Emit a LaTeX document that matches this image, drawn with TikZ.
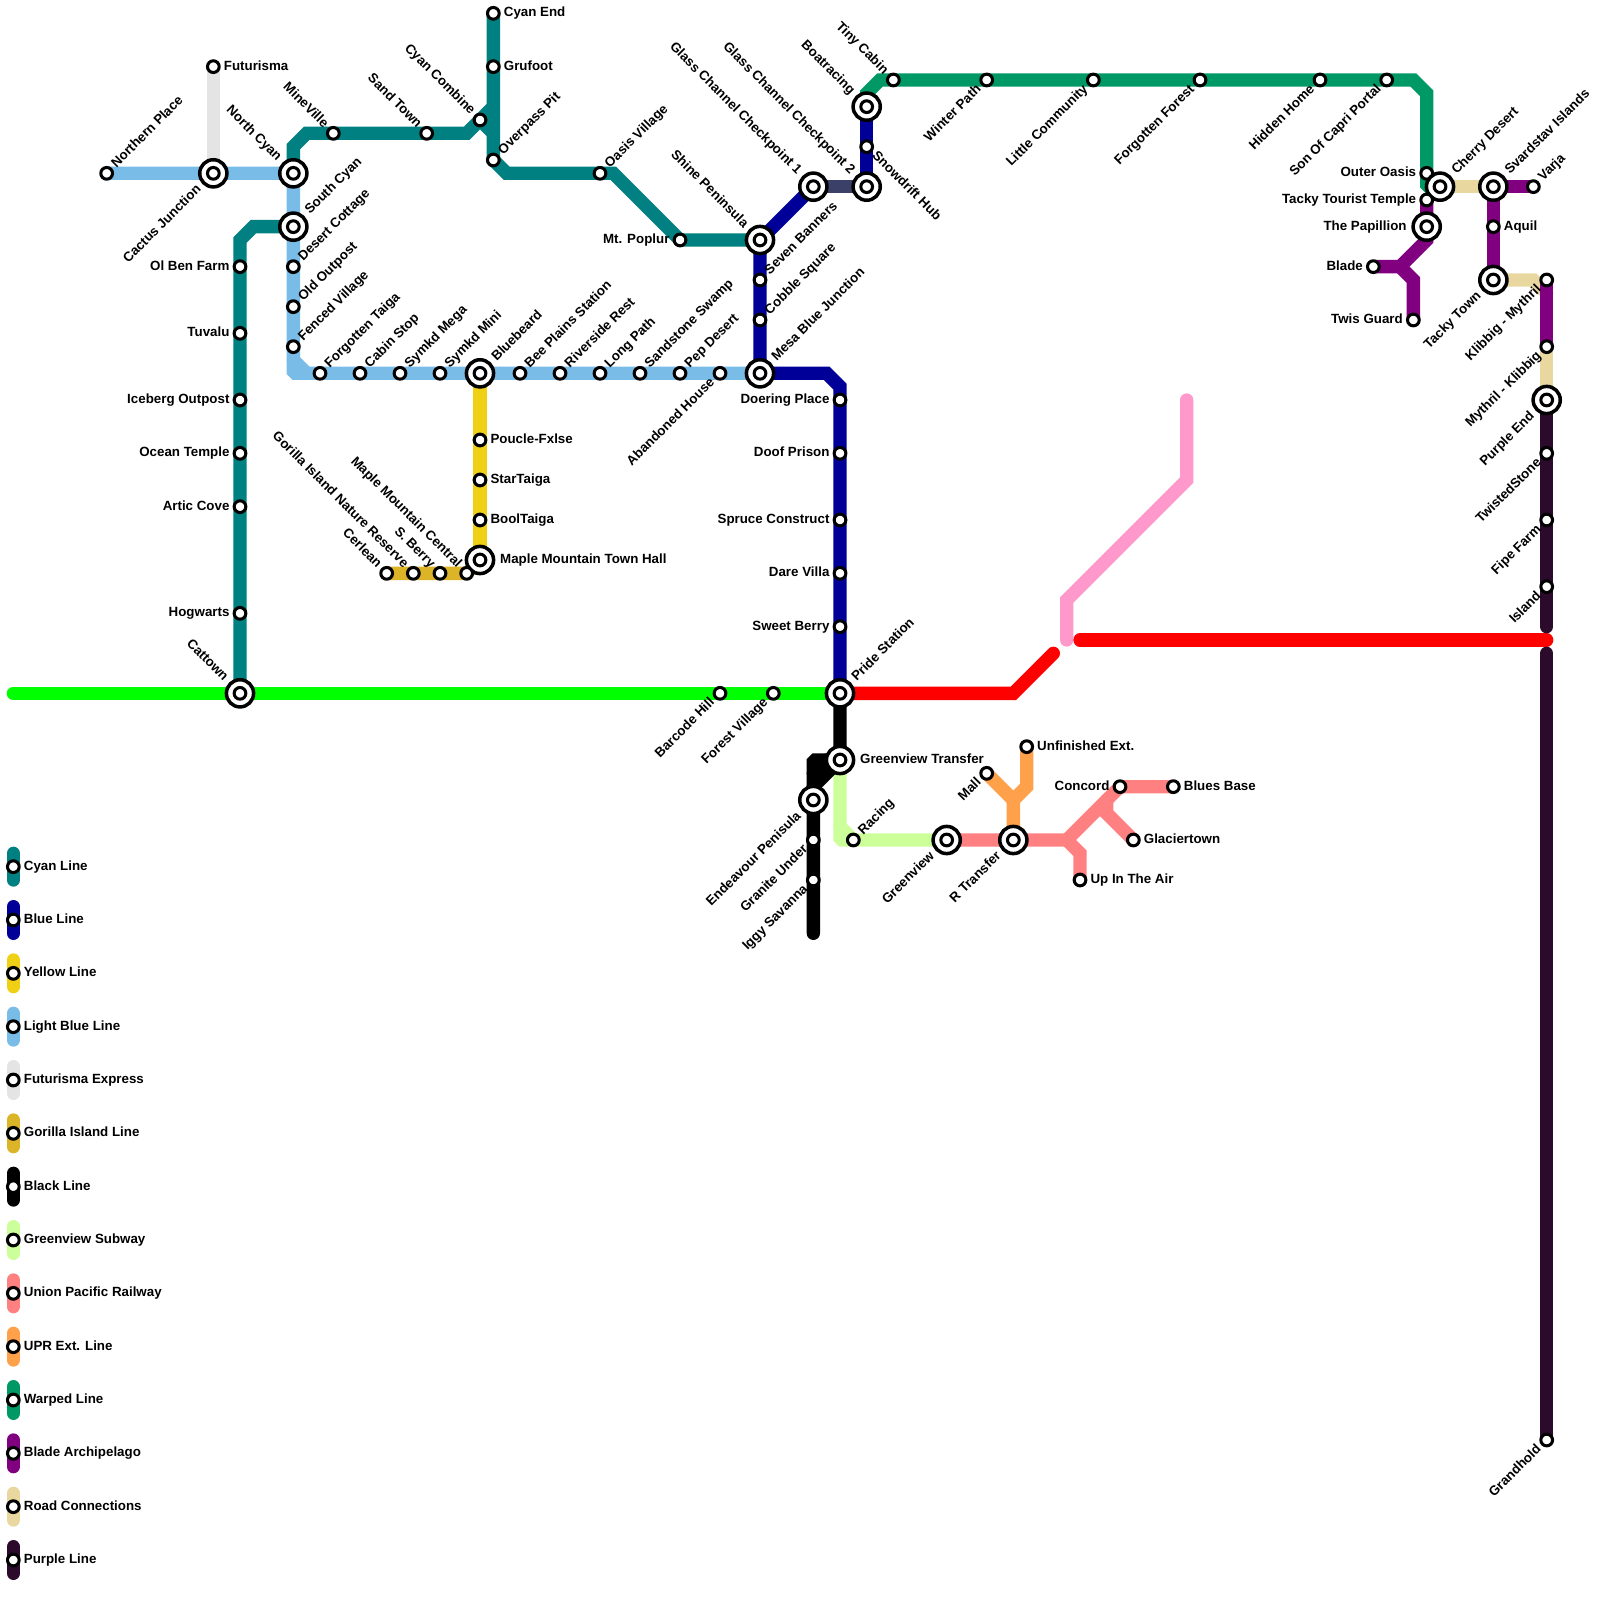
\documentclass[tikz,border=0pt]{standalone}
\usepackage{fontspec}
\setmainfont{Liberation Sans}
\definecolor{cyanl}{HTML}{008080}
\definecolor{bluel}{HTML}{000099}
\definecolor{yellowl}{HTML}{F0D014}
\definecolor{lightl}{HTML}{7ABCE8}
\definecolor{futl}{HTML}{E4E4E4}
\definecolor{gorl}{HTML}{DCB428}
\definecolor{blackl}{HTML}{000000}
\definecolor{greenvl}{HTML}{CCFF99}
\definecolor{upl}{HTML}{FF8080}
\definecolor{extl}{HTML}{FFA04A}
\definecolor{warpl}{HTML}{009966}
\definecolor{bladel}{HTML}{800080}
\definecolor{roadl}{HTML}{E8D8A0}
\definecolor{purpl}{HTML}{2B0A2B}
\definecolor{glassl}{HTML}{3A4068}
\definecolor{pinkl}{HTML}{FF99CC}
\definecolor{redl}{HTML}{FF0000}
\definecolor{limel}{HTML}{00FF00}
\pgfdeclarelayer{lines}
\pgfsetlayers{lines,main}
\tikzset{
  metro/.style={line width=5.69pt,line cap=round,line join=miter,draw=#1},
  sta/.style={circle,draw=black,fill=white,line width=1.3pt,minimum size=5pt,inner sep=0pt,outer sep=0pt},
  hub/.style={circle,draw=black,fill=white,line width=1.5pt,minimum size=11.6pt,inner sep=0pt,outer sep=0pt},
  lbl/.style={font=\fontsize{5.69pt}{6.5pt}\selectfont\bfseries,text=black,inner ysep=0pt,text height=5.2pt,text depth=2.18pt},
  lblR/.style={lbl,anchor=west},
  lblL/.style={lbl,anchor=east},
  lblUR/.style={lbl,anchor=west,rotate=45},
  lblDL/.style={lbl,anchor=east,rotate=45},
  lblUL/.style={lbl,anchor=east,rotate=-45},
  lblDR/.style={lbl,anchor=west,rotate=-45},
}
\newcommand\stn[5]{\node[sta] (#1) at (#2,#3) {}; \node[lbl#4,inner xsep=4.3pt] (#1-t) at (#2,#3) {#5};}
\newcommand\icn[5]{\node[hub] (#1) at (#2,#3) {}; \node[sta] (#1-i) at (#2,#3) {}; \node[lbl#4,inner xsep=8.4pt] (#1-t) at (#2,#3) {#5};}
\begin{document}
\begin{tikzpicture}[x=0.2cm,y=-0.2cm]
\useasboundingbox (0,0) rectangle (120,120);
% Cyan
\stn{cyanEnd}{37}{1}{R}{Cyan End}
\stn{grufoot}{37}{5}{R}{Grufoot}
\stn{cyanCombine}{36}{9}{UL}{Cyan Combine}
\stn{overpass}{37}{12}{UR}{Overpass Pit}
\stn{oasis}{45}{13}{UR}{Oasis Village}
\stn{poplur}{51}{18}{L}{Mt. Poplur}
\stn{sandTown}{32}{10}{UL}{Sand Town}
\stn{mineville}{25}{10}{UL}{MineVille}
\stn{olBen}{18}{20}{L}{Ol Ben Farm}
\stn{tuvalu}{18}{25}{L}{Tuvalu}
\stn{iceberg}{18}{30}{L}{Iceberg Outpost}
\stn{ocean}{18}{34}{L}{Ocean Temple}
\stn{artic}{18}{38}{L}{Artic Cove}
\stn{hogwarts}{18}{46}{L}{Hogwarts}
\icn{cattown}{18}{52}{UL}{Cattown}
\icn{northCyan}{22}{13}{UL}{North Cyan}
\icn{southCyan}{22}{17}{UR}{South Cyan}
% Light blue / futurisma
\stn{northern}{8}{13}{UR}{Northern Place}
\icn{cactus}{16}{13}{DL}{Cactus Junction}
\stn{futurisma}{16}{5}{R}{Futurisma}
\stn{desert}{22}{20}{UR}{Desert Cottage}
\stn{oldOut}{22}{23}{UR}{Old Outpost}
\stn{fenced}{22}{26}{UR}{Fenced Village}
\stn{forgotTaiga}{24}{28}{UR}{Forgotten Taiga}
\stn{cabin}{27}{28}{UR}{Cabin Stop}
\stn{symMega}{30}{28}{UR}{Symkd Mega}
\stn{symMini}{33}{28}{UR}{Symkd Mini}
\icn{bluebeard}{36}{28}{UR}{Bluebeard}
\stn{beePlains}{39}{28}{UR}{Bee Plains Station}
\stn{riverside}{42}{28}{UR}{Riverside Rest}
\stn{longPath}{45}{28}{UR}{Long Path}
\stn{sandstone}{48}{28}{UR}{Sandstone Swamp}
\stn{pep}{51}{28}{UR}{Pep Desert}
\stn{abandoned}{54}{28}{DL}{Abandoned House}
\icn{mesa}{57}{28}{UR}{Mesa Blue Junction}
% Blue
\icn{shine}{57}{18}{UL}{Shine Peninsula}
\stn{seven}{57}{21}{UR}{Seven Banners}
\stn{cobble}{57}{24}{UR}{Cobble Square}
\icn{glassA}{61}{14}{UL}{Glass Channel Checkpoint 1}
\icn{glassB}{65}{14}{UL}{Glass Channel Checkpoint 2}
\stn{snowdrift}{65}{11}{DR}{Snowdrift Hub}
\icn{boatracing}{65}{8}{UL}{Boatracing}
\stn{doering}{63}{30}{L}{Doering Place}
\stn{doof}{63}{34}{L}{Doof Prison}
\stn{spruce}{63}{39}{L}{Spruce Construct}
\stn{dare}{63}{43}{L}{Dare Villa}
\stn{sweet}{63}{47}{L}{Sweet Berry}
\icn{pride}{63}{52}{UR}{Pride Station}
\stn{barcode}{54}{52}{DL}{Barcode Hill}
\stn{forestV}{58}{52}{DL}{Forest Village}
% Yellow / Gorilla
\stn{poucle}{36}{33}{R}{Poucle-Fxlse}
\stn{startaiga}{36}{36}{R}{StarTaiga}
\stn{booltaiga}{36}{39}{R}{BoolTaiga}
\icn{mapleHall}{36}{42}{R}{Maple Mountain Town Hall}
\stn{cerlean}{29}{43}{UL}{Cerlean}
\stn{gorilla}{31}{43}{UL}{Gorilla Island Nature Reserve}
\stn{sberry}{33}{43}{UL}{S. Berry}
\stn{mapleCentral}{35}{43}{UL}{Maple Mountain Central}
% Black / Greenview / UP
\icn{gvTransfer}{63}{57}{R}{Greenview Transfer}
\icn{endeavour}{61}{60}{DL}{Endeavour Penisula}
\stn{granite}{61}{63}{DL}{Granite Under}
\stn{iggy}{61}{66}{DL}{Iggy Savanna}
\stn{racing}{64}{63}{UR}{Racing}
\icn{greenview}{71}{63}{DL}{Greenview}
\icn{rTransfer}{76}{63}{DL}{R Transfer}
\stn{mall}{74}{58}{DL}{Mall}
\stn{unfinished}{77}{56}{R}{Unfinished Ext.}
\stn{concord}{84}{59}{L}{Concord}
\stn{bluesBase}{88}{59}{R}{Blues Base}
\stn{glacier}{85}{63}{R}{Glaciertown}
\stn{upAir}{81}{66}{R}{Up In The Air}
% Warped
\stn{tiny}{67}{6}{UL}{Tiny Cabin}
\stn{winter}{74}{6}{DL}{Winter Path}
\stn{little}{82}{6}{DL}{Little Community}
\stn{forgotForest}{90}{6}{DL}{Forgotten Forest}
\stn{hidden}{99}{6}{DL}{Hidden Home}
\stn{sonCapri}{104}{6}{DL}{Son Of Capri Portal}
\stn{outerOasis}{107}{13}{L}{Outer Oasis}
\icn{cherry}{108}{14}{UR}{Cherry Desert}
\stn{tackyTemple}{107}{15}{L}{Tacky Tourist Temple}
\icn{papillion}{107}{17}{L}{The Papillion}
\stn{blade}{103}{20}{L}{Blade}
\stn{twis}{106}{24}{L}{Twis Guard}
\icn{svardstav}{112}{14}{UR}{Svardstav Islands}
\stn{varja}{115}{14}{UR}{Varja}
\stn{aquil}{112}{17}{R}{Aquil}
\icn{tackyTown}{112}{21}{DL}{Tacky Town}
\stn{klibbig}{116}{21}{DL}{Klibbig - Mythril}
\stn{mythril}{116}{26}{DL}{Mythril - Klibbig}
\icn{purpleEnd}{116}{30}{DL}{Purple End}
\stn{twisted}{116}{34}{DL}{TwistedStone}
\stn{fipe}{116}{39}{DL}{Fipe Farm}
\stn{island}{116}{44}{DL}{Island}
\stn{grandhold}{116}{108}{DL}{Grandhold}
% Waypoints
\coordinate (wA) at (22,11); \coordinate (wB) at (23,10); \coordinate (wC) at (35,10); \coordinate (wD) at (37,8); \coordinate (wE) at (37,10);
\coordinate (wF) at (38,13); \coordinate (wG) at (46,13);
\coordinate (wH) at (19,17); \coordinate (wI) at (18,18);
\coordinate (wJa) at (22,27.85); \coordinate (wJb) at (22.15,28); \coordinate (wK) at (22,27); \coordinate (wL) at (23,28);
\coordinate (wM) at (62,28); \coordinate (wN) at (63,29);
\coordinate (wO) at (1,52); \coordinate (wP) at (76,52); \coordinate (wQ) at (79,49);
\coordinate (wR) at (81,48); \coordinate (wS) at (116,48);
\coordinate (wT) at (89,30); \coordinate (wU) at (89,36); \coordinate (wV) at (80,45); \coordinate (wW) at (80,48);
\coordinate (wXa) at (61.15,57); \coordinate (wXb) at (61,57.15); \coordinate (wY) at (61,59); \coordinate (wZ) at (61,70);
\coordinate (wXc) at (62,57); \coordinate (wXd) at (61,58);
\coordinate (gAa) at (63,62.85); \coordinate (gAb) at (63.15,63); \coordinate (gB) at (63,62);
\coordinate (uA) at (80,63); \coordinate (uB) at (81,64); \coordinate (uC) at (83,60); \coordinate (uD) at (83,61);
\coordinate (eA) at (77,59); \coordinate (eB) at (76,60);
\coordinate (vA) at (106,6); \coordinate (vB) at (107,7); \coordinate (vCa) at (107,13.85); \coordinate (vCb) at (107.15,14);
\coordinate (vD) at (65,7); \coordinate (vE) at (66,6);
\coordinate (bA) at (107,18); \coordinate (bB) at (105,20); \coordinate (bC) at (106,21);
\coordinate (pA) at (116,47); \coordinate (pB) at (116,49);
\coordinate (rA) at (115,21); \coordinate (rB) at (116,22);
\begin{pgfonlayer}{lines}
\draw[metro=pinkl] (wT) -- (wU) -- (wV) -- (wW);
\draw[metro=redl] (pride.center) -- (wP) -- (wQ);
\draw[metro=redl] (wR) -- (wS);
\draw[metro=limel] (wO) -- (pride.center);
\draw[metro=purpl] (purpleEnd.center) -- (pA);
\draw[metro=purpl] (pB) -- (grandhold.center);
\draw[metro=futl] (futurisma.center) -- (cactus.center);
\draw[metro=cyanl] (cyanEnd.center) -- (overpass.center) -- (wF) -- (wG) -- (poplur.center) -- (shine.center);
\draw[metro=cyanl] (northCyan.center) -- (wA) -- (wB) -- (wC) -- (wD);
\draw[metro=cyanl] (cyanCombine.center) -- (wE);
\draw[metro=cyanl] (southCyan.center) -- (wH) -- (wI) -- (cattown.center);
\draw[metro=lightl] (northern.center) -- (northCyan.center) -- (wJa) -- (wJb) -- (mesa.center);
\draw[metro=lightl] (wK) -- (wL);
\draw[metro=bluel] (boatracing.center) -- (glassB.center);
\draw[metro=glassl] (glassB.center) -- (glassA.center);
\draw[metro=bluel] (glassA.center) -- (shine.center) -- (mesa.center) -- (wM) -- (wN) -- (pride.center);
\draw[metro=yellowl] (bluebeard.center) -- (mapleHall.center);
\draw[metro=gorl] (cerlean.center) -- (mapleCentral.center) -- (mapleHall.center);
\draw[metro=greenvl] (gvTransfer.center) -- (gAa) -- (gAb) -- (greenview.center);
\draw[metro=greenvl] (gB) -- (racing.center);
\draw[metro=blackl] (pride.center) -- (gvTransfer.center) -- (wXa) -- (wXb) -- (wZ);
\draw[metro=blackl] (gvTransfer.center) -- (wY);
\draw[metro=blackl] (wXc) -- (wXd);
\draw[metro=upl] (greenview.center) -- (uA) -- (concord.center) -- (bluesBase.center);
\draw[metro=upl] (uA) -- (uB) -- (upAir.center);
\draw[metro=upl] (uC) -- (uD) -- (glacier.center);
\draw[metro=extl] (unfinished.center) -- (eA) -- (eB) -- (rTransfer.center);
\draw[metro=extl] (mall.center) -- (eB);
\draw[metro=roadl] (cherry.center) -- (svardstav.center);
\draw[metro=roadl] (tackyTown.center) -- (rA) -- (rB);
\draw[metro=roadl] (mythril.center) -- (purpleEnd.center);
\draw[metro=warpl] (boatracing.center) -- (vD) -- (vE) -- (tiny.center) -- (vA) -- (vB) -- (vCa) -- (vCb) -- (cherry.center);
\draw[metro=bladel] (tackyTemple.center) -- (bA) -- (bB) -- (blade.center);
\draw[metro=bladel] (bB) -- (bC) -- (twis.center);
\draw[metro=bladel] (varja.center) -- (svardstav.center) -- (tackyTown.center);
\draw[metro=bladel] (klibbig.center) -- (mythril.center);
\end{pgfonlayer}
% Legend
\foreach \i/\yy/\cc/\tt in {1/65/cyanl/Cyan Line,2/69/bluel/Blue Line,3/73/yellowl/Yellow Line,4/77/lightl/Light Blue Line,5/81/futl/Futurisma Express,6/85/gorl/Gorilla Island Line,7/89/blackl/Black Line,8/93/greenvl/Greenview Subway,9/97/upl/Union Pacific Railway,10/101/extl/UPR Ext. Line,11/105/warpl/Warped Line,12/109/bladel/Blade Archipelago,13/113/roadl/Road Connections,14/117/purpl/Purple Line}{
  \stn{leg\i}{1}{\yy}{R}{\tt}
  \coordinate (legT\i) at (1,\yy-1);
  \coordinate (legB\i) at (1,\yy+1);
  \begin{pgfonlayer}{lines}
    \draw[metro=\cc] (legT\i) -- (legB\i);
  \end{pgfonlayer}
}
\end{tikzpicture}
\end{document}
